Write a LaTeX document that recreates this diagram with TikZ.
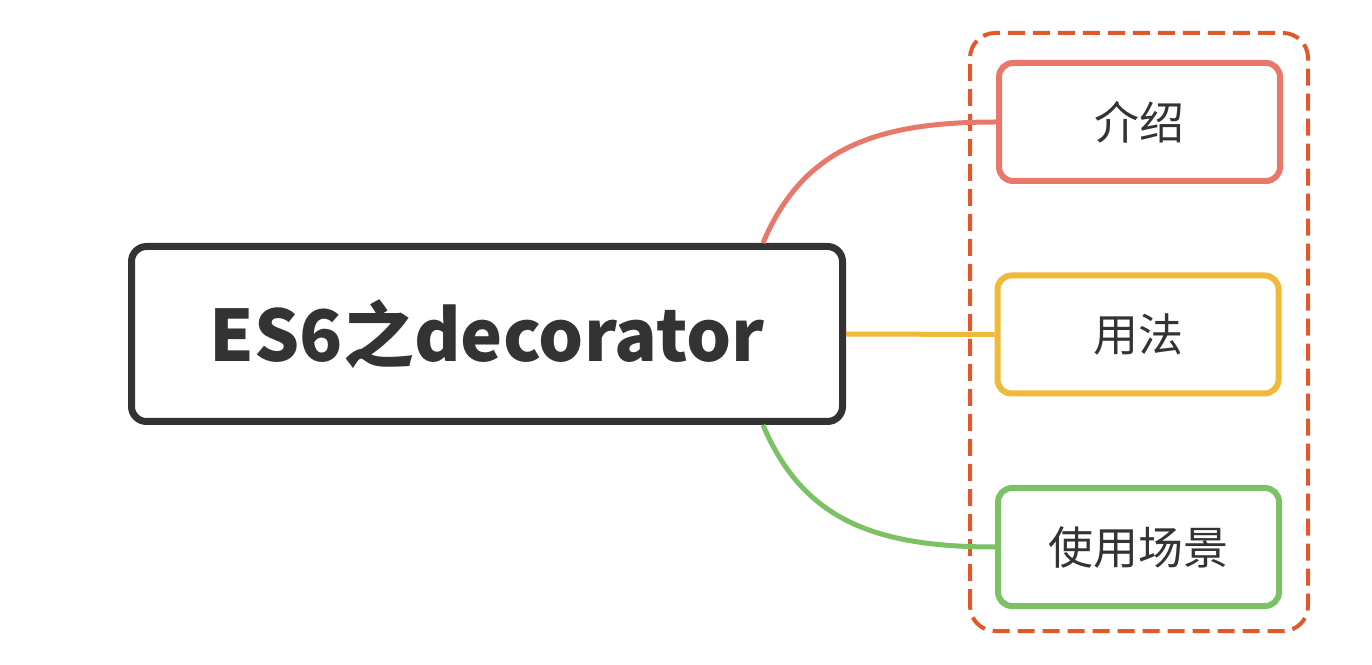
\documentclass[tikz,border=0pt]{standalone}
\usepackage{fontspec}
\usepackage{tikz}
\newfontfamily\cjk{Noto Sans CJK SC}
\definecolor{rootgray}{HTML}{333333}
\definecolor{introred}{HTML}{E8786A}
\definecolor{usageyellow}{HTML}{F0B93A}
\definecolor{scenegreen}{HTML}{7DC165}
\definecolor{groupred}{HTML}{E0592A}

\begin{document}
\begin{tikzpicture}[x=1pt,y=1pt,
  rootbox/.style={draw=rootgray, line width=7pt, rounded corners=15pt,
    minimum width=711pt, minimum height=175pt, inner sep=0pt,
    text=rootgray, font=\cjk\bfseries\fontsize{71}{76}\selectfont},
  leafbox/.style={line width=6pt, rounded corners=14pt,
    minimum width=281pt, minimum height=118pt, inner sep=0pt,
    text=rootgray, font=\cjk\fontsize{45}{50}\selectfont},
  branch/.style={line width=5pt}]

% canvas
\useasboundingbox (0,0) rectangle (1372,664);
\fill[white] (0,0) rectangle (1372,664);

% group frame
\draw[groupred, line width=4pt, dash pattern=on 17pt off 8pt, rounded corners=25pt]
  (970,33) rectangle (1308,631);

% nodes
\node[rootbox] (root) at (487,330) {ES6之decorator};
\node[leafbox, draw=introred] (intro) at (1139.5,542) {介绍};
\node[leafbox, draw=usageyellow] (usage) at (1138,329.5) {用法};
\node[leafbox, draw=scenegreen] (scene) at (1138.5,117) {使用场景};

% branches
\begin{scope}[branch]
\draw[introred] ([xshift=-83pt]root.north east)
  .. controls +(40,95) and +(-120,0) .. (intro.west);
\draw[usageyellow] (root.east) -- (usage.west);
\draw[scenegreen] ([xshift=-83pt]root.south east)
  .. controls +(40,-95) and +(-120,0) .. (scene.west);
\end{scope}

\end{tikzpicture}
\end{document}
